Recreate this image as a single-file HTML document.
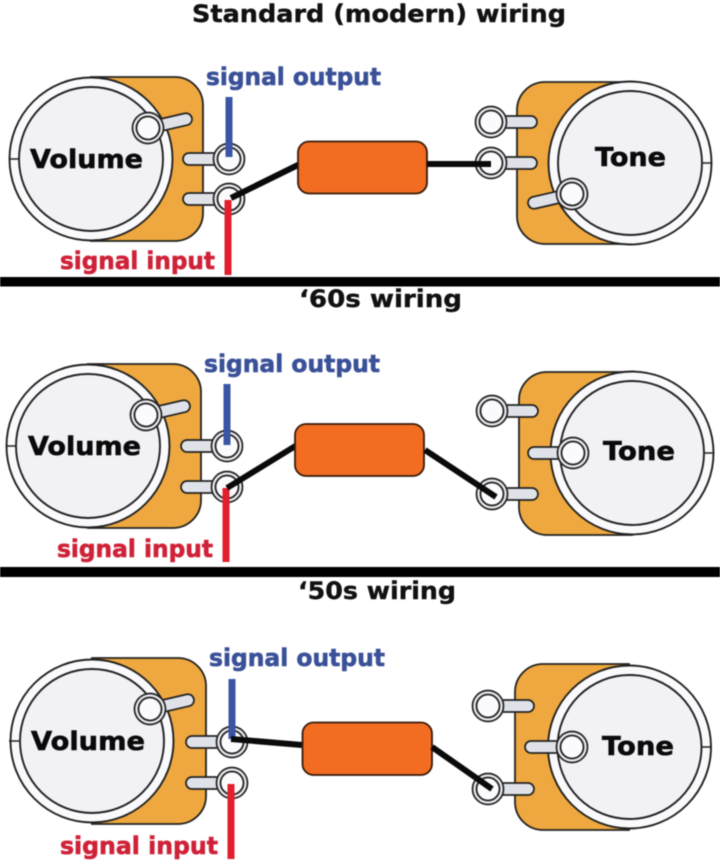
<!DOCTYPE html>
<html><head><meta charset="utf-8">
<style>
html,body{margin:0;padding:0;background:#fff}
svg{display:block;filter:blur(.45px)}
text{font-family:"DejaVu Sans","Liberation Sans",sans-serif;font-weight:700}
.h{font-size:24px;fill:#111;stroke:#111;stroke-width:.4}
.k{font-size:26px;fill:#0a0a0a;stroke:#0a0a0a;stroke-width:.6}
.o{font-size:24px;fill:#3a5199;stroke:#3a5199;stroke-width:.6}
.i{font-size:24px;fill:#cf2238;stroke:#cf2238;stroke-width:.6}
</style></head><body>
<svg width="720" height="866" viewBox="0 0 720 866" xmlns="http://www.w3.org/2000/svg">
<defs>
<g id="ring"><circle r="15.5" fill="#e8e8ee" stroke="#222" stroke-width="1.7"/><circle r="11.5" fill="#fbfbfd" stroke="#222" stroke-width="1.8"/></g>
<g id="lugL"><rect x="-46" y="-6" width="36" height="12" rx="6" fill="#dfe2e8" stroke="#222" stroke-width="1.7"/><use href="#ring"/></g>
<g id="lugR"><rect x="10" y="-6" width="36" height="12" rx="6" fill="#dfe2e8" stroke="#222" stroke-width="1.7"/><use href="#ring"/></g>
<g id="dial"><circle r="81.5" fill="#fafafc" stroke="#222" stroke-width="1.9"/><circle r="72" fill="#f1f1f6" stroke="#222" stroke-width="1.9"/></g>
</defs>

<!-- PANEL 1 -->
<text class="h" x="192" y="22" textLength="374" lengthAdjust="spacingAndGlyphs">Standard (modern) wiring</text>
<path d="M91 77H175A28 28 0 0 1 203 105V213A28 28 0 0 1 175 241H91Z" fill="#efa83f" stroke="#222" stroke-width="1.8"/>
<use href="#dial" x="91" y="159"/>
<line x1="9" y1="159" x2="19" y2="159" stroke="#222" stroke-width="1.5"/>
<g transform="translate(148,128) rotate(-13)"><rect x="8" y="-6" width="37" height="12" rx="6" fill="#dfe2e8" stroke="#222" stroke-width="1.7"/><use href="#ring"/></g>
<use href="#lugL" x="229" y="159"/>
<use href="#lugL" x="229" y="199"/>
<text class="k" x="30" y="168" textLength="113" lengthAdjust="spacingAndGlyphs">Volume</text>
<line x1="229" y1="97" x2="229" y2="157" stroke="#3a55a5" stroke-width="7"/>
<line x1="228" y1="200" x2="228" y2="275" stroke="#e11f2d" stroke-width="7"/>
<line x1="231" y1="198" x2="300" y2="164" stroke="#0a0a0a" stroke-width="6"/>
<text class="o" x="206" y="85" textLength="175" lengthAdjust="spacingAndGlyphs">signal output</text>
<text class="i" x="60" y="269" textLength="155" lengthAdjust="spacingAndGlyphs">signal input</text>
<rect x="298" y="141.5" width="129" height="52" rx="11" fill="#f26d22" stroke="#3a1a0a" stroke-width="1.8"/>
<line x1="427" y1="164" x2="491" y2="164" stroke="#0a0a0a" stroke-width="6"/>
<path d="M630 82H545A28 28 0 0 0 517 110V216A28 28 0 0 0 545 244H630Z" fill="#efa83f" stroke="#222" stroke-width="1.8"/>
<use href="#dial" x="630" y="163"/>
<line x1="702" y1="163" x2="712" y2="163" stroke="#222" stroke-width="1.5"/>
<g transform="translate(572,194) rotate(-13)"><rect x="-45" y="-6" width="37" height="12" rx="6" fill="#dfe2e8" stroke="#222" stroke-width="1.7"/><use href="#ring"/></g>
<use href="#lugR" x="491" y="122"/>
<use href="#lugR" x="491" y="163"/>
<line x1="470" y1="164" x2="491" y2="164" stroke="#0a0a0a" stroke-width="6"/>
<text class="k" x="595" y="166" textLength="71" lengthAdjust="spacingAndGlyphs">Tone</text>
<rect x="0" y="277" width="720" height="9.5" fill="#000"/>

<!-- PANEL 2 -->
<text class="h" x="299" y="307" textLength="163" lengthAdjust="spacingAndGlyphs">‘60s wiring</text>
<path d="M88 364H173A28 28 0 0 1 201 392V500A28 28 0 0 1 173 528H88Z" fill="#efa83f" stroke="#222" stroke-width="1.8"/>
<use href="#dial" x="88" y="446"/>
<line x1="6" y1="446" x2="16" y2="446" stroke="#222" stroke-width="1.5"/>
<g transform="translate(146,415) rotate(-13)"><rect x="8" y="-6" width="37" height="12" rx="6" fill="#dfe2e8" stroke="#222" stroke-width="1.7"/><use href="#ring"/></g>
<use href="#lugL" x="227" y="446"/>
<use href="#lugL" x="227" y="487"/>
<text class="k" x="28" y="455" textLength="113" lengthAdjust="spacingAndGlyphs">Volume</text>
<line x1="227" y1="384" x2="227" y2="445" stroke="#3a55a5" stroke-width="7"/>
<line x1="226" y1="488" x2="226" y2="562" stroke="#e11f2d" stroke-width="7"/>
<line x1="227" y1="488" x2="297" y2="445" stroke="#0a0a0a" stroke-width="6"/>
<text class="o" x="204" y="372" textLength="176" lengthAdjust="spacingAndGlyphs">signal output</text>
<text class="i" x="57" y="557" textLength="156" lengthAdjust="spacingAndGlyphs">signal input</text>
<rect x="295" y="424" width="129" height="52" rx="11" fill="#f26d22" stroke="#3a1a0a" stroke-width="1.8"/>
<path d="M632 372H547A28 28 0 0 0 519 400V507A28 28 0 0 0 547 535H632Z" fill="#efa83f" stroke="#222" stroke-width="1.8"/>
<use href="#dial" x="632" y="453"/>
<line x1="704" y1="453" x2="714" y2="453" stroke="#222" stroke-width="1.5"/>
<g transform="translate(573,453)"><rect x="-45" y="-6" width="37" height="12" rx="6" fill="#dfe2e8" stroke="#222" stroke-width="1.7"/><use href="#ring"/></g>
<use href="#lugR" x="492" y="411"/>
<use href="#lugR" x="492" y="494"/>
<line x1="425" y1="450" x2="496" y2="497" stroke="#0a0a0a" stroke-width="6"/>
<text class="k" x="603" y="460" textLength="72" lengthAdjust="spacingAndGlyphs">Tone</text>
<rect x="0" y="567" width="720" height="10" fill="#000"/>

<!-- PANEL 3 -->
<text class="h" x="298" y="599" textLength="158" lengthAdjust="spacingAndGlyphs">‘50s wiring</text>
<path d="M92 658H178A28 28 0 0 1 206 686V796A28 28 0 0 1 178 824H92Z" fill="#efa83f" stroke="#222" stroke-width="1.8"/>
<use href="#dial" x="92" y="741"/>
<line x1="9" y1="741" x2="19" y2="741" stroke="#222" stroke-width="1.5"/>
<g transform="translate(150,709) rotate(-13)"><rect x="8" y="-6" width="37" height="12" rx="6" fill="#dfe2e8" stroke="#222" stroke-width="1.7"/><use href="#ring"/></g>
<use href="#lugL" x="232" y="742"/>
<use href="#lugL" x="232" y="783"/>
<text class="k" x="31" y="750" textLength="114" lengthAdjust="spacingAndGlyphs">Volume</text>
<line x1="232" y1="679" x2="232" y2="739" stroke="#3a55a5" stroke-width="7"/>
<line x1="231" y1="784" x2="231" y2="859" stroke="#e11f2d" stroke-width="7"/>
<line x1="231" y1="739" x2="302" y2="745" stroke="#0a0a0a" stroke-width="6"/>
<text class="o" x="209" y="666" textLength="176" lengthAdjust="spacingAndGlyphs">signal output</text>
<text class="i" x="60" y="854" textLength="158" lengthAdjust="spacingAndGlyphs">signal input</text>
<rect x="302.5" y="722.5" width="129.5" height="52.5" rx="11" fill="#f26d22" stroke="#3a1a0a" stroke-width="1.8"/>
<path d="M629 664H543A28 28 0 0 0 515 692V802A28 28 0 0 0 543 830H629Z" fill="#efa83f" stroke="#222" stroke-width="1.8"/>
<use href="#dial" x="629.5" y="747"/>
<line x1="702" y1="747" x2="712" y2="747" stroke="#222" stroke-width="1.5"/>
<g transform="translate(572,747)"><rect x="-47" y="-6" width="38" height="12" rx="6" fill="#dfe2e8" stroke="#222" stroke-width="1.7"/><use href="#ring"/></g>
<use href="#lugR" x="488" y="706"/>
<use href="#lugR" x="488" y="789"/>
<line x1="432" y1="747" x2="492" y2="789" stroke="#0a0a0a" stroke-width="6"/>
<text class="k" x="602" y="755" textLength="72" lengthAdjust="spacingAndGlyphs">Tone</text>
</svg>
</body></html>
